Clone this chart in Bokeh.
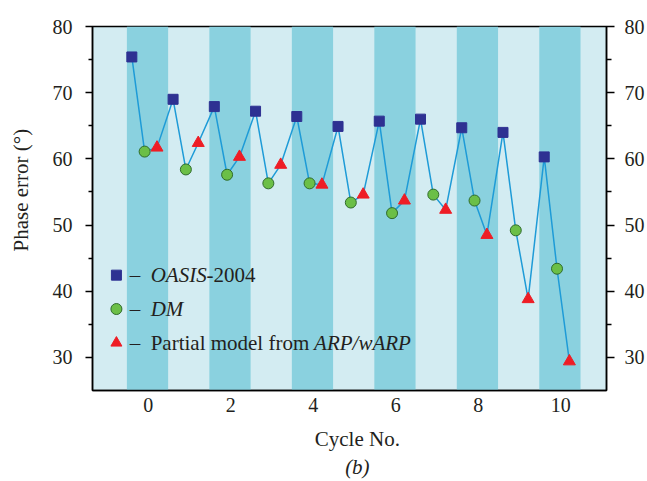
from bokeh.plotting import figure
from bokeh.models import Range1d, LinearAxis, FixedTicker, Label, BoxAnnotation
from bokeh.embed import file_html
from bokeh.resources import INLINE

# ---- data ----
cycles = [0, 1, 2, 3, 4, 5, 6, 7, 8, 9, 10]
oasis = [75.4, 69.0, 67.9, 67.2, 66.4, 64.9, 65.7, 66.0, 64.7, 64.0, 60.3]
dm = [61.1, 58.4, 57.6, 56.3, 56.3, 53.4, 51.8, 54.6, 53.7, 49.2, 43.4]
partial = [61.7, 62.4, 60.3, 59.1, 56.1, 54.6, 53.7, 52.3, 48.5, 38.8, 29.4]
x_ticks = [0, 2, 4, 6, 8, 10]
y_ticks = [30, 40, 50, 60, 70, 80]
y_minor = [35, 45, 55, 65, 75]
band_cycles = [0, 2, 4, 6, 8, 10]

# ---- styles ----
FONT = "Liberation Serif"
TXT = "#231f20"
DARK = "#8ad1df"
LIGHT = "#d3ecf2"
LINE = "#1e9bd7"
SQ = "#2e3192"
CI = "#6bbf47"
CI_EDGE = "#2f6b2c"
TR = "#ee1d25"
OFF_SQ, OFF_CI, OFF_TR = -0.40, -0.09, 0.21
NB = "\u00a0"

p = figure(width=647, height=481, output_backend="svg", toolbar_location=None,
           x_range=Range1d(-1.354, 11.11), y_range=Range1d(25, 80),
           min_border_left=92, min_border_right=40, min_border_top=26,
           min_border_bottom=90)
p.background_fill_color = LIGHT
p.border_fill_color = "white"
p.grid.visible = False
p.outline_line_color = "black"
p.outline_line_width = 1.5

for c in band_cycles:
    p.add_layout(BoxAnnotation(left=c - 0.52, right=c + 0.48, fill_color=DARK,
                               fill_alpha=1.0, line_alpha=0, level="underlay"))

xs, ys = [], []
for i, c in enumerate(cycles):
    xs += [c + OFF_SQ, c + OFF_CI, c + OFF_TR]
    ys += [oasis[i], dm[i], partial[i]]
p.line(xs, ys, line_color=LINE, line_width=1.5)

p.scatter([c + OFF_SQ for c in cycles], oasis, marker="square", size=10,
          fill_color=SQ, line_color=SQ)
p.scatter([c + OFF_CI for c in cycles], dm, marker="circle", size=11,
          fill_color=CI, line_color=CI_EDGE, line_width=1)
p.scatter([c + OFF_TR for c in cycles], partial, marker="triangle", size=12,
          fill_color=TR, line_color=TR)

# ---- axes ----
xa = p.xaxis[0]
xa.ticker = FixedTicker(ticks=x_ticks)
xa.major_tick_out = 0
xa.major_tick_in = 0
xa.minor_tick_out = 0
xa.minor_tick_in = 0
xa.major_label_standoff = 7
xa.axis_label = NB * 3 + "Cycle No."
xa.axis_label_standoff = 12

xb = LinearAxis(ticker=FixedTicker(ticks=[]),
                major_tick_out=0, minor_tick_out=0, major_tick_in=0, minor_tick_in=0)
xb.major_label_standoff = 0
xb.axis_label = NB * 3 + "(b)"
xb.axis_label_standoff = 1
p.add_layout(xb, "below")

ya = p.yaxis[0]
ya.ticker = FixedTicker(ticks=y_ticks, minor_ticks=y_minor)
ya.major_tick_out = 7
ya.major_tick_in = 0
ya.minor_tick_out = 4
ya.minor_tick_in = 0
ya.major_label_standoff = 13
ya.axis_label = NB * 7 + "Phase error (°)"
ya.axis_label_standoff = 17

ra = LinearAxis(ticker=FixedTicker(ticks=y_ticks, minor_ticks=y_minor))
ra.major_tick_out = 8
ra.major_tick_in = 0
ra.minor_tick_out = 5
ra.minor_tick_in = 0
ra.major_label_standoff = 10
p.add_layout(ra, "right")

for ax in (xa, xb, ya, ra):
    ax.axis_line_color = "black"
    ax.axis_line_width = 1.5
    ax.major_tick_line_color = "black"
    ax.major_tick_line_width = 1.5
    ax.minor_tick_line_color = "black"
    ax.minor_tick_line_width = 1.5
    ax.major_label_text_font = FONT
    ax.major_label_text_font_size = "20px"
    ax.major_label_text_color = TXT
    ax.axis_label_text_font = FONT
    ax.axis_label_text_font_size = "21px"
    ax.axis_label_text_color = TXT
    ax.axis_label_text_font_style = "normal"
xb.axis_line_alpha = 0
xb.axis_label_text_font_style = "italic"

# ---- legend (manual, mixed italics) ----
row_y = [42.43, 37.31, 32.19]
mk_x = -0.774
p.scatter([mk_x], [row_y[0]], marker="square", size=10, fill_color=SQ, line_color=SQ)
p.scatter([mk_x], [row_y[1]], marker="circle", size=11, fill_color=CI,
          line_color=CI_EDGE, line_width=1)
p.scatter([mk_x], [row_y[2]], marker="triangle", size=11, fill_color=TR, line_color=TR)


def leg(x, y, text, style="normal"):
    p.add_layout(Label(x=x, y=y, text=text, text_font=FONT, text_font_size="21px",
                       text_font_style=style, text_color=TXT, text_align="left",
                       text_baseline="middle"))

for ry in row_y:
    leg(-0.45, ry, "–")
leg(0.056, row_y[0], "OASIS", "italic")
leg(1.41, row_y[0], "-2004")
leg(0.056, row_y[1], "DM", "italic")
leg(0.056, row_y[2], "Partial model from ")
leg(4.02, row_y[2], "ARP/wARP", "italic")

open("out.html", "w").write(file_html(p, INLINE))
